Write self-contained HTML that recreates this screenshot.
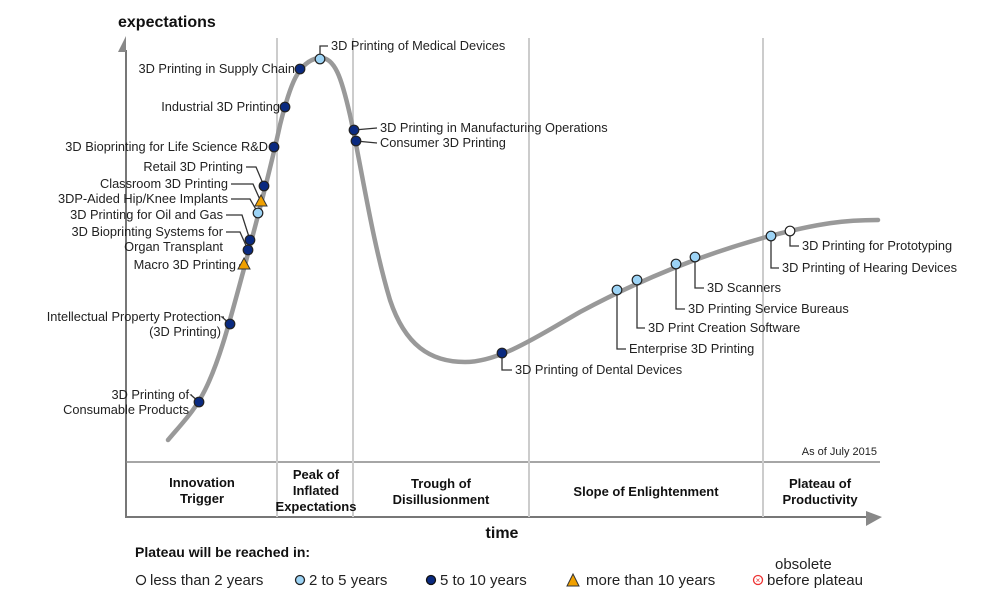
<!DOCTYPE html>
<html><head><meta charset="utf-8"><style>
body{margin:0;background:#fff;}
svg{display:block;font-family:"Liberation Sans",sans-serif;}
.lbl{font-size:12.8px;fill:#222;}
.ph{font-size:13px;font-weight:bold;fill:#111;text-anchor:middle;}
.leg{font-size:15px;fill:#222;}
</style></head><body>
<svg id="c" width="1003" height="600">
<g>
<line x1="126" y1="50" x2="126" y2="518" stroke="#777" stroke-width="2"/>
<polygon points="118,52 126,36 126,52" fill="#888"/>
<line x1="126" y1="462" x2="880" y2="462" stroke="#888" stroke-width="1.5"/>
<line x1="126" y1="517" x2="870" y2="517" stroke="#777" stroke-width="2"/>
<polygon points="866,511 882,517 866,526" fill="#888"/>
<line x1="277" y1="38" x2="277" y2="517" stroke="#ccc" stroke-width="2"/>
<line x1="353" y1="38" x2="353" y2="517" stroke="#ccc" stroke-width="2"/>
<line x1="529" y1="38" x2="529" y2="517" stroke="#ccc" stroke-width="2"/>
<line x1="763" y1="38" x2="763" y2="517" stroke="#ccc" stroke-width="2"/>
<text x="118" y="27" font-size="16" font-weight="bold" fill="#111">expectations</text>
<text x="502" y="538" text-anchor="middle" font-size="16" font-weight="bold" fill="#111">time</text>
<text x="877" y="455" text-anchor="end" font-size="11" fill="#222">As of July 2015</text>
</g>
<g>
<text class="ph" x="202" y="487">Innovation</text><text class="ph" x="202" y="503">Trigger</text>
<text class="ph" x="316" y="479">Peak of</text><text class="ph" x="316" y="495">Inflated</text><text class="ph" x="316" y="511">Expectations</text>
<text class="ph" x="441" y="488">Trough of</text><text class="ph" x="441" y="504">Disillusionment</text>
<text class="ph" x="646" y="496">Slope of Enlightenment</text>
<text class="ph" x="820" y="488">Plateau of</text><text class="ph" x="820" y="504">Productivity</text>
</g>
<path fill="none" stroke="#999" stroke-width="4.5" stroke-linecap="round"
d="M168,440 C185,420 195,410 205,390 C220,360 230,320 245,265 C258,215 268,180 280,125 C290,85 298,62 318,58 C335,55 342,80 350,115 C362,170 372,240 390,300 C405,345 430,362 465,362 C500,362 540,335 580,312 C640,280 700,255 770,236 C820,223 845,220 878,220"/>
<g id="pts"></g>
<g>
<text x="135" y="557" font-size="14" font-weight="bold" fill="#111">Plateau will be reached in:</text>
<circle cx="141" cy="580" r="4.5" fill="#fff" stroke="#222" stroke-width="1.3"/><text class="leg" x="150" y="585">less than 2 years</text>
<circle cx="300" cy="580" r="4.5" fill="#9cd3f5" stroke="#222" stroke-width="1.3"/><text class="leg" x="309" y="585">2 to 5 years</text>
<circle cx="431" cy="580" r="4.5" fill="#0a2a80" stroke="#111" stroke-width="1.3"/><text class="leg" x="440" y="585">5 to 10 years</text>
<polygon points="573,574 579,586 567,586" fill="#f0a000" stroke="#333"/><text class="leg" x="586" y="585">more than 10 years</text>
<circle cx="758" cy="580" r="4.5" fill="#fff" stroke="#e33" stroke-width="1.3"/><text x="758" y="583" text-anchor="middle" font-size="8" fill="#e33">×</text>
<text class="leg" x="767" y="585">before plateau</text><text class="leg" x="775" y="569">obsolete</text>
</g>
</svg>
<script>
// data: time = x-126, expectation = 518-y
const names=["3D Printing of Medical Devices","3D Printing in Supply Chain","Industrial 3D Printing","3D Bioprinting for Life Science R&D","Retail 3D Printing","Classroom 3D Printing","3DP-Aided Hip/Knee Implants","3D Printing for Oil and Gas","3D Bioprinting Systems for|Organ Transplant","Macro 3D Printing","Intellectual Property Protection|(3D Printing)","3D Printing of|Consumable Products","3D Printing in Manufacturing Operations","Consumer 3D Printing","3D Printing of Dental Devices","Enterprise 3D Printing","3D Print Creation Software","3D Printing Service Bureaus","3D Scanners","3D Printing of Hearing Devices","3D Printing for Prototyping"];
const times=[194,174,159,148,138,135,132,124,122,118,104,73,228,230,376,491,511,550,569,645,664];
const expect=[459,449,411,371,332,316,305,278,268,253,194,116,388,377,165,228,238,254,261,282,287];
const cats=["25","510","510","510","510","10","25","510","510","10","510","510","510","510","510","25","25","25","25","25","2"];
const labelTime=[205,169,154,142,117,102,102,97,97,110,95,63,254,254,389,503,522,562,581,656,676];
const labelExp=[472,449,411,371,351,334,319,303,286,253,201,123,390,375,148,169,190,209,230,250,272];
const sides=["r","l","l","l","l","l","l","l","l","l","l","l","r","r","r","r","r","r","r","r","r"];
const X=t=>126+t, Y=e=>518-e;
const g=document.getElementById('pts');
const NS="http://www.w3.org/2000/svg";
names.forEach((n,i)=>{
  const px=X(times[i]),py=Y(expect[i]),lx=X(labelTime[i]),ly=Y(labelExp[i]);
  const lines=n.split('|');
  const lead=document.createElementNS(NS,'polyline');
  let pts;
  if(sides[i]==='r'){
    if(Math.abs(ly-py)<4) pts=`${px},${py} ${lx-3},${ly}`;
    else pts=`${px},${py} ${px},${ly} ${lx-3},${ly}`;
  } else {
    if(Math.abs(ly-py)<4) pts=`${px},${py} ${lx+3},${ly}`;
    else pts=`${px},${py} ${px-8},${ly} ${lx+3},${ly}`;
  }
  lead.setAttribute('points',pts);lead.setAttribute('fill','none');lead.setAttribute('stroke','#333');lead.setAttribute('stroke-width','1.3');
  
  
  g.appendChild(lead);
  let m;
  if(cats[i]==='10'){m=document.createElementNS(NS,'polygon');m.setAttribute('points',`${px},${py-7} ${px+6},${py+4} ${px-6},${py+4}`);m.setAttribute('fill','#f0a000');m.setAttribute('stroke','#333');}
  else{m=document.createElementNS(NS,'circle');m.setAttribute('cx',px);m.setAttribute('cy',py);m.setAttribute('r',4.8);
    m.setAttribute('fill',cats[i]==='2'?'#fff':cats[i]==='25'?'#9cd3f5':'#0a2a80');m.setAttribute('stroke','#222');m.setAttribute('stroke-width','1.2');}
  
  
  g.appendChild(m);
  const t=document.createElementNS(NS,'text');
  t.setAttribute('class','lbl');
  t.setAttribute('text-anchor',sides[i]==='r'?'start':'end');
  const y0=ly+4;
  lines.forEach((s,k)=>{const ts=document.createElementNS(NS,'tspan');ts.setAttribute('x',lx);ts.setAttribute('y',y0+k*15);ts.textContent=s;t.appendChild(ts);});
  
  
  g.appendChild(t);
});
</script>
</body></html>
